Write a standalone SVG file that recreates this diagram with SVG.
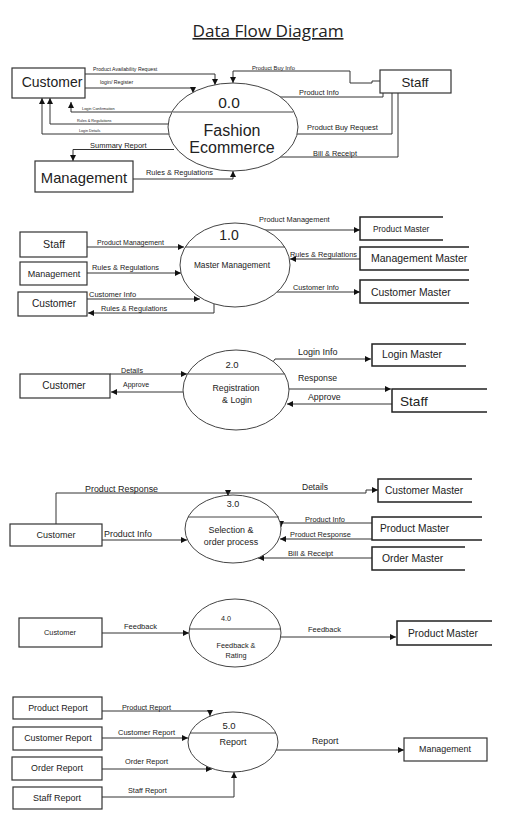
<svg xmlns="http://www.w3.org/2000/svg" width="526" height="828" viewBox="0 0 526 828">
<style>
text{font-family:"Liberation Sans",Arial,sans-serif;fill:#222}
.c{text-anchor:middle}
.box{fill:#fff;stroke:#333;stroke-width:1.2}
.store{fill:none;stroke:#222;stroke-width:1.5}
.el{fill:#fff;stroke:#444;stroke-width:1}
.dv{stroke:#444;stroke-width:1}
.ln{fill:none;stroke:#333;stroke-width:1;marker-end:url(#a)}
.ln0{fill:none;stroke:#333;stroke-width:1}
</style>
<defs>
<marker id="a" viewBox="0 0 10 10" refX="10" refY="5" markerWidth="6" markerHeight="6" orient="auto" markerUnits="userSpaceOnUse">
<path d="M0,0 L10,5 L0,10 z" fill="#111"/>
</marker>
</defs>
<rect width="526" height="828" fill="#fff"/>
<text x="268" y="37" class="c" style="font-family:'Open Sans','Liberation Sans',sans-serif;font-size:16px;font-weight:500" textLength="151" lengthAdjust="spacingAndGlyphs" text-decoration="underline">Data Flow Diagram</text>

<!-- connectors -->
<g id="connectors">
<!-- level 0 -->
<path class="ln" d="M85,74 H215 V85"/>
<path class="ln" d="M85,88 H193 V93"/>
<path class="ln" d="M172,112 H71 V102"/>
<path class="ln" d="M168,124 H50 V98"/>
<path class="ln" d="M169,134 H42 V98"/>
<path class="ln" d="M174,149.5 H73 V161"/>
<path class="ln" d="M133,179 H233 V171"/>
<path class="ln" d="M380,81 H372 V83 H350 V71 H233 V83"/>
<path class="ln" d="M383,93 V97 H274 V94"/>
<path class="ln0" d="M392,93 V134 H295"/>
<path class="ln0" d="M398,93 V157 H278"/>
<!-- 1.0 -->
<path class="ln" d="M87,247 H184"/>
<path class="ln" d="M87,273 H181"/>
<path class="ln" d="M87,299 H200"/>
<path class="ln" d="M214,304 V313 H88"/>
<path class="ln" d="M265,230 H360"/>
<path class="ln" d="M360,259 H290"/>
<path class="ln" d="M277,292 H360"/>
<!-- 2.0 -->
<path class="ln" d="M110,374 H187"/>
<path class="ln" d="M183,392 H111"/>
<path class="ln" d="M273,362 L275,359 H371"/>
<path class="ln" d="M289,389 H391"/>
<path class="ln" d="M392,404 H287"/>
<!-- 3.0 -->
<path class="ln" d="M56,524 V493 H228 V496"/>
<path class="ln" d="M228,493 H366 V490 H378"/>
<path class="ln" d="M102,540 H187"/>
<path class="ln" d="M372,523 H281 V527"/>
<path class="ln" d="M372,539 H280"/>
<path class="ln" d="M372,558 H258"/>
<!-- 4.0 -->
<path class="ln" d="M102,633 H189"/>
<path class="ln" d="M281,637 H396"/>
<!-- 5.0 -->
<path class="ln" d="M102,711 H210 V716"/>
<path class="ln" d="M102,738 H188"/>
<path class="ln" d="M102,769 H212"/>
<path class="ln" d="M102,797 H234 V772"/>
<path class="ln" d="M276,750 H404"/>
</g>

<g id="connector-labels">
<text x="93" y="71" font-size="5.2">Product Availability Request</text>
<text x="100" y="84" font-size="5.2">login/ Register</text>
<text x="82" y="110" font-size="3.9">Login Confirmation</text>
<text x="77" y="122" font-size="3.8">Rules &amp; Regulations</text>
<text x="79" y="132" font-size="3.7">Login Details</text>
<text x="90" y="147.5" font-size="7.5">Summary Report</text>
<text x="146" y="175" font-size="7.4">Rules &amp; Regulations</text>
<text x="252" y="69.5" font-size="5.8">Product Buy Info</text>
<text x="299" y="94.5" font-size="7.4">Product Info</text>
<text x="307" y="130" font-size="7.5">Product Buy Request</text>
<text x="313" y="155.5" font-size="7.4">Bill &amp; Receipt</text>

<text x="97" y="245" font-size="7">Product Management</text>
<text x="92" y="270" font-size="7.4">Rules &amp; Regulations</text>
<text x="89" y="297" font-size="7.5">Customer Info</text>
<text x="101" y="311" font-size="7.3">Rules &amp; Regulations</text>
<text x="259" y="222" font-size="7.4">Product Management</text>
<text x="290" y="257" font-size="7.4">Rules &amp; Regulations</text>
<text x="293" y="290" font-size="7.3">Customer Info</text>

<text x="121" y="372.5" font-size="7.2">Details</text>
<text x="123" y="387" font-size="7">Approve</text>
<text x="298" y="355" font-size="9">Login Info</text>
<text x="298" y="381" font-size="8.7">Response</text>
<text x="308" y="400" font-size="8.8">Approve</text>

<text x="85" y="492" font-size="8.9">Product Response</text>
<text x="302" y="490" font-size="8.5">Details</text>
<text x="104" y="537" font-size="8.9">Product Info</text>
<text x="305" y="521.5" font-size="7.4">Product Info</text>
<text x="290" y="537" font-size="7.4">Product Response</text>
<text x="288" y="556" font-size="7.6">Bill &amp; Receipt</text>

<text x="124" y="629" font-size="7.5">Feedback</text>
<text x="308" y="632" font-size="7.5">Feedback</text>

<text x="122" y="710" font-size="7.3">Product Report</text>
<text x="118" y="735" font-size="7.5">Customer Report</text>
<text x="125" y="764" font-size="7.4">Order Report</text>
<text x="128" y="793" font-size="7.3">Staff Report</text>
<text x="312" y="744" font-size="8.8">Report</text>
</g>

<!-- Level 0 -->
<g id="p0">
<ellipse class="el" cx="233" cy="127" rx="65" ry="44"/>
<line class="dv" x1="173" y1="112" x2="293" y2="112"/>
<text x="229" y="108" class="c" font-size="15.5">0.0</text>
<text x="232" y="136" class="c" font-size="16">Fashion</text>
<text x="232" y="153" class="c" font-size="16">Ecommerce</text>
</g>
<g id="e0-customer"><rect class="box" x="12" y="68" width="73" height="30"/><text x="52" y="87" class="c" font-size="14">Customer</text></g>
<g id="e0-staff"><rect class="box" x="380" y="70" width="71" height="23"/><text x="415" y="87" class="c" font-size="13.3">Staff</text></g>
<g id="e0-management"><rect class="box" x="35" y="161" width="98" height="31"/><text x="84" y="183" class="c" font-size="14.8">Management</text></g>

<!-- 1.0 -->
<g id="p1">
<ellipse class="el" cx="235" cy="265" rx="55" ry="42"/>
<line class="dv" x1="185" y1="247" x2="285" y2="247"/>
<text x="229" y="240" class="c" font-size="14">1.0</text>
<text x="232" y="268" class="c" font-size="8.3">Master Management</text>
</g>
<g id="e1-staff"><rect class="box" x="20" y="232" width="67" height="25"/><text x="54" y="248" class="c" font-size="10.7">Staff</text></g>
<g id="e1-management"><rect class="box" x="20" y="262" width="67" height="23"/><text x="54" y="277" class="c" font-size="9">Management</text></g>
<g id="e1-customer"><rect class="box" x="18" y="292" width="69" height="24"/><text x="54" y="307" class="c" font-size="10.2">Customer</text></g>
<g id="s1-product"><path class="store" d="M443,217 H360 V240 H443"/><text x="373" y="232" font-size="8.3">Product Master</text></g>
<g id="s1-management"><path class="store" d="M469,247 H360 V270 H469"/><text x="371" y="262" font-size="10.5">Management Master</text></g>
<g id="s1-customer"><path class="store" d="M469,280 H360 V303 H469"/><text x="371" y="296" font-size="10.4">Customer Master</text></g>

<!-- 2.0 -->
<g id="p2">
<ellipse class="el" cx="236" cy="390" rx="53" ry="40"/>
<line class="dv" x1="187" y1="374" x2="285" y2="374"/>
<text x="232" y="368" class="c" font-size="9.5">2.0</text>
<text x="236" y="391" class="c" font-size="8.8">Registration</text>
<text x="237" y="403" class="c" font-size="8.8">&amp; Login</text>
</g>
<g id="e2-customer"><rect class="box" x="20" y="374" width="90" height="24"/><text x="64" y="389" class="c" font-size="10">Customer</text></g>
<g id="s2-login"><path class="store" d="M466,344 H372 V366 H466"/><text x="382" y="358" font-size="10.4">Login Master</text></g>
<g id="s2-staff"><path class="store" d="M487,389 H392 V412 H487"/><text x="400" y="406" font-size="13.6">Staff</text></g>

<!-- 3.0 -->
<g id="p3">
<ellipse class="el" cx="233" cy="529" rx="48" ry="34"/>
<line class="dv" x1="188" y1="517" x2="279" y2="517"/>
<text x="233" y="507" class="c" font-size="9">3.0</text>
<text x="231" y="533" class="c" font-size="8.9">Selection &amp;</text>
<text x="231" y="545" class="c" font-size="8.9">order process</text>
</g>
<g id="e3-customer"><rect class="box" x="10" y="524" width="92" height="22"/><text x="56" y="538" class="c" font-size="9">Customer</text></g>
<g id="s3-customer"><path class="store" d="M472,479 H378 V502 H472"/><text x="385" y="494" font-size="10.2">Customer Master</text></g>
<g id="s3-product"><path class="store" d="M482,517 H372 V540 H482"/><text x="380" y="532" font-size="10.2">Product Master</text></g>
<g id="s3-order"><path class="store" d="M465,547 H372 V570 H465"/><text x="382" y="562" font-size="10.4">Order Master</text></g>

<!-- 4.0 -->
<g id="p4">
<ellipse class="el" cx="235" cy="633" rx="46" ry="34"/>
<line class="dv" x1="189" y1="629" x2="281" y2="629"/>
<text x="226" y="621" class="c" font-size="7.2">4.0</text>
<text x="236" y="648" class="c" font-size="7.3">Feedback &amp;</text>
<text x="236" y="658" class="c" font-size="7.3">Rating</text>
</g>
<g id="e4-customer"><rect class="box" x="19" y="618" width="83" height="29"/><text x="60" y="635" class="c" font-size="7.4">Customer</text></g>
<g id="s4-product"><path class="store" d="M492,621 H397 V645 H492"/><text x="408" y="637" font-size="10.3">Product Master</text></g>

<!-- 5.0 -->
<g id="p5">
<ellipse class="el" cx="233" cy="742" rx="45" ry="30"/>
<line class="dv" x1="190" y1="733" x2="276" y2="733"/>
<text x="229" y="729" class="c" font-size="9.5">5.0</text>
<text x="233" y="745" class="c" font-size="9">Report</text>
</g>
<g id="e5-product"><rect class="box" x="13" y="697" width="89" height="22"/><text x="58" y="711" class="c" font-size="8.9">Product Report</text></g>
<g id="e5-customer"><rect class="box" x="13" y="727" width="89" height="23"/><text x="58" y="741" class="c" font-size="8.9">Customer Report</text></g>
<g id="e5-order"><rect class="box" x="12" y="757" width="90" height="23"/><text x="57" y="771" class="c" font-size="8.9">Order Report</text></g>
<g id="e5-staff"><rect class="box" x="13" y="787" width="89" height="22"/><text x="57" y="801" class="c" font-size="9">Staff Report</text></g>
<g id="e5-management"><rect class="box" x="404" y="738" width="83" height="23"/><text x="445" y="752" class="c" font-size="8.9">Management</text></g>
</svg>
